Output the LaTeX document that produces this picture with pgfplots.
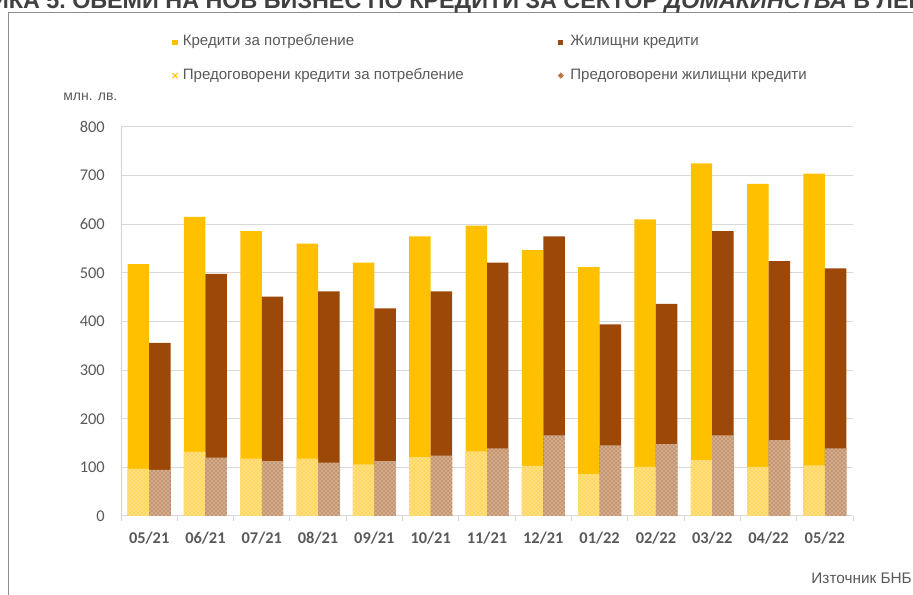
\documentclass[border=0pt]{standalone}
\usepackage{pgfplots}
\pgfplotsset{compat=1.18}
\usetikzlibrary{patterns}
\usepackage{fontspec}
\setmainfont{Liberation Sans}
\newfontfamily\carlito{Carlito}

\definecolor{consY}{HTML}{FFC000}
\definecolor{housB}{HTML}{9C4808}
\definecolor{tickgray}{HTML}{595959}
\definecolor{titlegray}{HTML}{404040}
\definecolor{gridgray}{HTML}{D9D9D9}
\definecolor{yaxisblue}{HTML}{C9D3E6}
\definecolor{framegray}{HTML}{8C8C8C}

\begin{document}
\begin{tikzpicture}[x=0.75pt,y=0.75pt]
\useasboundingbox (0,0) rectangle (913,595);

% frame and clipped title
\draw[framegray, line width=0.75pt] (8.5,0) -- (8.5,582.3) -- (913,582.3);
\node[anchor=base west, inner sep=0pt, text=titlegray,
      font=\fontsize{17.5}{20}\selectfont\bfseries] at (72,586.5)
  {\llap{ГРАФИКА 5.\ }ОБЕМИ НА НОВ БИЗНЕС ПО КРЕДИТИ ЗА СЕКТОР \textit{ДОМАКИНСТВА} В ЛЕВА};

\begin{axis}[
    at={(90.75pt,59.25pt)}, anchor=south west,
    scale only axis,
    width=549pt, height=291.75pt,
    xmin=-0.5, xmax=12.5,
    ymin=0, ymax=800,
    ytick={0,100,...,800},
    xtick={0,...,12},
    xticklabels={05/21,06/21,07/21,08/21,09/21,10/21,11/21,12/21,01/22,02/22,03/22,04/22,05/22},
    minor xtick={-0.5,0.5,...,12.5},
    axis x line*=bottom,
    axis y line*=left,
    x axis line style={draw=gridgray, line width=0.75pt},
    y axis line style={draw=yaxisblue, line width=0.75pt},
    major tick style={draw=none},
    minor tick style={draw=gridgray, line width=0.75pt},
    minor tick length=3.75pt,
    xtick align=outside,
    ymajorgrids=true,
    grid style={draw=gridgray, line width=0.75pt},
    /pgf/number format/assume math mode=true,
    yticklabel style={font=\carlito\fontsize{12.3}{14}\selectfont, text=tickgray, inner sep=0pt, xshift=-12pt},
    xticklabel style={font=\carlito\fontsize{12.3}{14}\selectfont\bfseries, text=tickgray, inner sep=0pt, anchor=base, yshift=-16pt},
    ybar,
    bar width=16.1pt,
    legend columns=2,
    legend cell align=left,
    legend style={at={(0.0697,1.234)}, anchor=north west, draw=none, fill=none,
        inner sep=0pt, outer sep=0pt, row sep=15.5pt,
        font=\fontsize{11.3}{13}\selectfont, text=tickgray,
        nodes={inner sep=0pt, text height=7.5pt, text depth=2pt},
        /tikz/column 1/.style={column sep=3.5pt},
        /tikz/column 2/.style={column sep=70.5pt},
        /tikz/column 3/.style={column sep=4.9pt}},
]
% consumer credits, total
\addplot[draw=none, fill=consY, bar shift=-8.05pt,
    legend image code/.code={\fill[consY] (0pt,-2pt) rectangle (4pt,2pt);}]
coordinates {(0,518) (1,615) (2,586) (3,560) (4,521) (5,575) (6,597) (7,547) (8,512) (9,610) (10,725) (11,683) (12,704)};
% housing credits, total
\addplot[draw=none, fill=housB, bar shift=8.05pt,
    legend image code/.code={\fill[housB] (0pt,-2pt) rectangle (4pt,2pt);}]
coordinates {(0,356) (1,498) (2,451) (3,462) (4,427) (5,462) (6,521) (7,575) (8,394) (9,436) (10,586) (11,524) (12,509)};
% renegotiated consumer credits
\addplot[draw=none, fill=consY!50!white, bar shift=-8.05pt,
    postaction={pattern=crosshatch dots, pattern color=consY},
    legend image code/.code={\draw[consY, line width=0.6pt] (0pt,-2pt) -- (4pt,2pt) (0pt,2pt) -- (4pt,-2pt);}]
coordinates {(0,97) (1,132) (2,118) (3,118) (4,106) (5,121) (6,133) (7,103) (8,86) (9,101) (10,115) (11,101) (12,104)};
% renegotiated housing credits
\addplot[draw=none, fill=housB!45!white, bar shift=8.05pt,
    postaction={pattern=crosshatch dots, pattern color=housB},
    legend image code/.code={\draw[housB!70!white, line width=0.5pt] (0pt,0pt) -- (2pt,2pt) -- (4pt,0pt) -- (2pt,-2pt) -- cycle;}]
coordinates {(0,95) (1,120) (2,113) (3,110) (4,113) (5,124) (6,139) (7,166) (8,145) (9,148) (10,166) (11,156) (12,139)};
\legend{Кредити за потребление, Жилищни кредити,
        Предоговорени кредити за потребление, Предоговорени жилищни кредити}
\end{axis}

\node[anchor=base west, inner sep=0pt, text=tickgray, font=\fontsize{10.5}{12}\selectfont]
  at (63,494.3) {млн. лв.};
\node[anchor=base east, inner sep=0pt, text=tickgray, font=\fontsize{11.5}{13}\selectfont]
  at (912,11) {Източник БНБ};
\end{tikzpicture}
\end{document}
